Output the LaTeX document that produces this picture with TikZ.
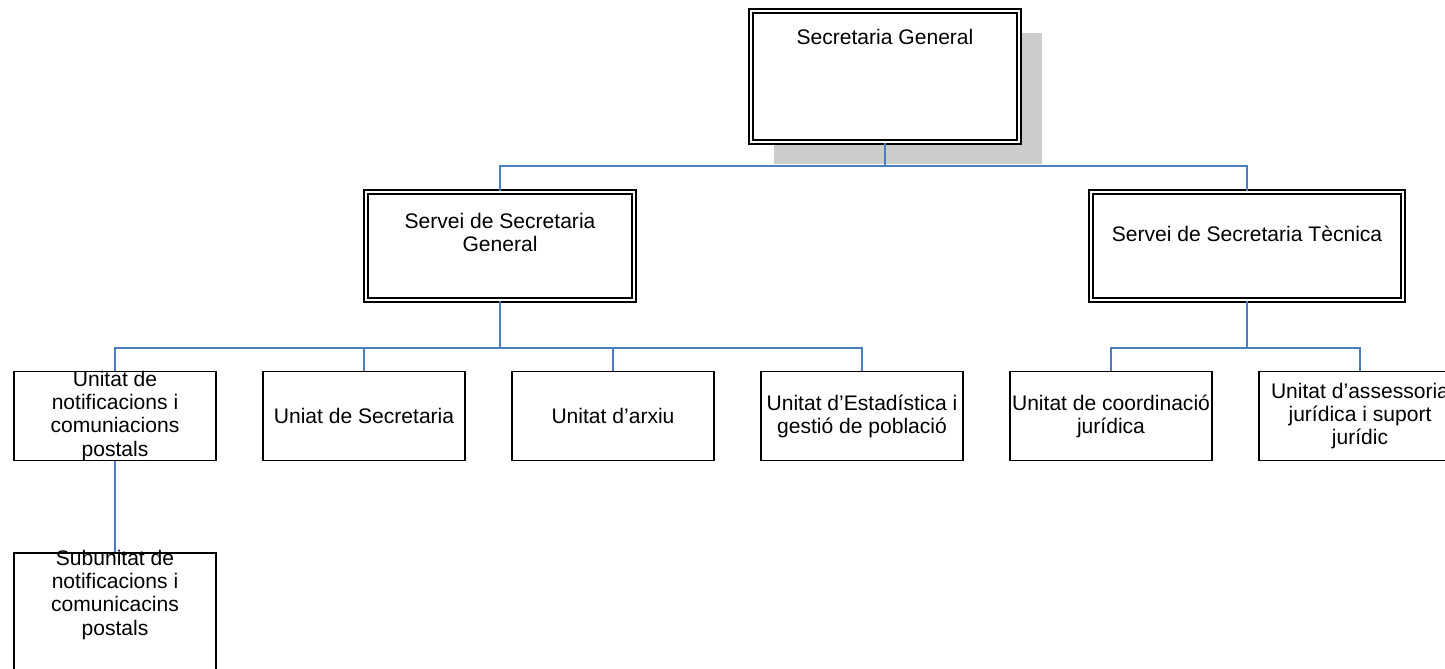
\documentclass[tikz,border=0pt]{standalone}
\usepackage{fontspec}
\setmainfont{Liberation Sans}
\usetikzlibrary{shadows}
\definecolor{linkblue}{RGB}{74,126,193}
\newcommand\orgfont{\fontsize{15.8}{17.3}\selectfont}

\begin{document}
\begin{tikzpicture}[x=0.75pt, y=-0.75pt,
		chief/.style={draw, double, line width=1.1pt, double distance=1.9pt, fill=white, minimum width=201pt, minimum height=81pt, inner sep=0pt},
		unit/.style={draw, line width=1.4pt, fill=white, minimum width=151.5pt, minimum height=66.75pt, inner sep=0pt, align=center, font=\orgfont},
		lbl/.style={align=center, font=\orgfont, inner sep=0pt},
		link/.style={linkblue, line width=1.1pt}]
	\useasboundingbox (0,0) rectangle (1445,668);
	
	% Caixes de direccio
	\node[chief, minimum height=98.25pt, drop shadow={shadow xshift=17.25pt, shadow yshift=-16.5pt, fill=gray!40, opacity=1}] (sg) at (885,76.5) {};
	\node[chief] (ssg) at (500,246) {};
	\node[chief, minimum width=234pt] (sst) at (1247,246) {};
	\node[lbl] (sg-t) at (885,37) {Secretaria General};
	\node[lbl] (ssg-t) at (500,232) {Servei de Secretaria\\General};
	\node[lbl] (sst-t) at (1247,234) {Servei de Secretaria Tècnica};
	
	% Unitats
	\node[unit] (u1) at (115,416) {Unitat de\\notificacions i\\comuniacions\\postals};
	\node[unit] (u2) at (364,416) {Uniat de Secretaria};
	\node[unit] (u3) at (613,416) {Unitat d’arxiu};
	\node[unit] (u4) at (862,416) {Unitat d’Estadística i\\gestió de població};
	\node[unit] (u5) at (1111,416) {Unitat de coordinació\\jurídica};
	\node[unit] (u6) at (1360,416) {Unitat d’assessoria\\jurídica i suport\\jurídic};
	\node[unit, minimum height=112.5pt] (su1) at (115,628) {};
	\node[lbl] (su1-t) at (115,595) {Subunitat de\\notificacions i\\comunicacins\\postals};
	
	% Connectors
	\coordinate (j0) at (885,166);
	\coordinate (j1) at (500,348);
	\coordinate (j2) at (1247,348);
	\draw[link] (sg.south) -- (j0);
	\draw[link] (ssg.north) |- (j0) -| (sst.north);
	\draw[link] (ssg.south) -- (j1);
	\draw[link] (u1.north) |- (j1) -| (u4.north);
	\foreach \u in {u2, u3}{
		\draw[link] (\u.north) -- (\u.north |- j1);}
	\draw[link] (sst.south) -- (j2);
	\draw[link] (u5.north) |- (j2) -| (u6.north);
	\draw[link] (u1.south) -- (su1.north);
\end{tikzpicture}
\end{document}
